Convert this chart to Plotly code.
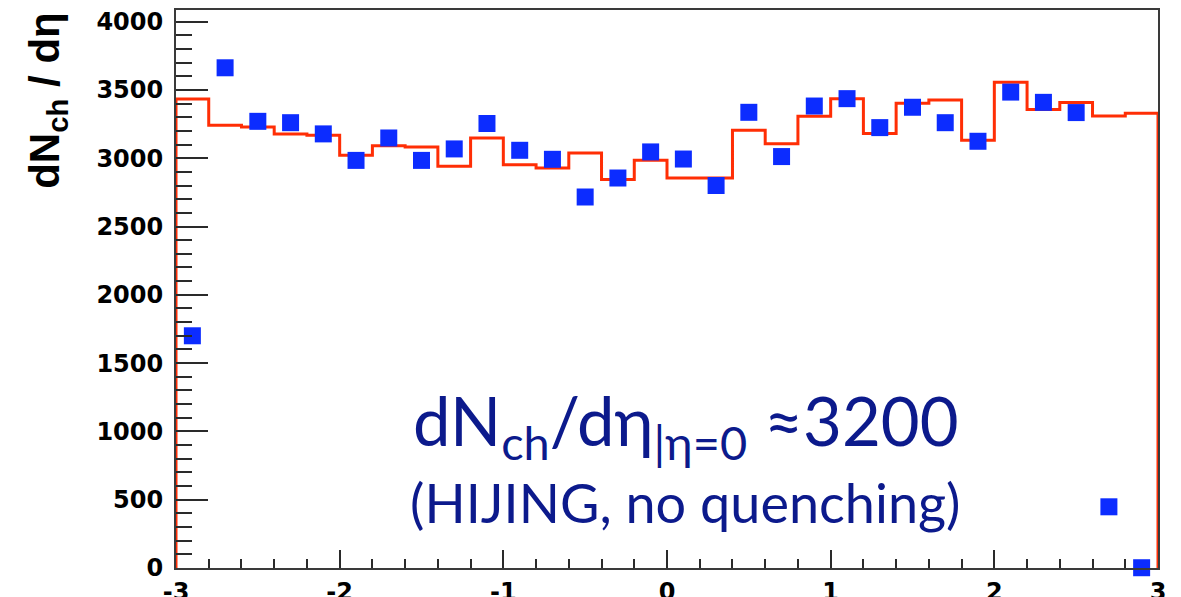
import plotly.graph_objects as go

# Pseudorapidity bins (width 0.2) from -3 to 3
bin_edges = [round(-3.0 + 0.2 * i, 1) for i in range(31)]
bin_centers = [round(-2.9 + 0.2 * i, 1) for i in range(30)]

# Simulated dN_ch/d(eta) histogram (red step line)
hist_values = [3434, 3241, 3229, 3177, 3168, 3021, 3092, 3082, 2941, 3148,
               2953, 2929, 3038, 2845, 2985, 2855, 2855, 3204, 3106, 3307,
               3436, 3180, 3402, 3426, 3131, 3556, 3356, 3407, 3309, 3329]

# Reconstructed multiplicity (blue squares)
point_values = [1700, 3662, 3270, 3260, 3178, 2984, 3148, 2984, 3068, 3254,
                3058, 2992, 2716, 2855, 3046, 2994, 2800, 3336, 3012, 3382,
                3436, 3224, 3373, 3260, 3124, 3484, 3409, 3334, 448, 2]

x_tick_vals = [-3, -2, -1, 0, 1, 2, 3]
x_tick_labels = ["-3", "-2", "-1", "0", "1", "2", "3"]
y_tick_vals = [0, 500, 1000, 1500, 2000, 2500, 3000, 3500, 4000]
y_tick_labels = ["0", "500", "1000", "1500", "2000", "2500", "3000", "3500", "4000"]

# Step outline: start and end on zero so the histogram is closed at both edges
step_x = [bin_edges[0]] + bin_edges[:-1] + [bin_edges[-1], bin_edges[-1]]
step_y = [0] + hist_values + [hist_values[-1], 0]

fig = go.Figure()
fig.add_trace(go.Scatter(
    x=step_x, y=step_y, mode="lines", line_shape="hv",
    line=dict(color="#ff2e05", width=3), cliponaxis=False,
    hoverinfo="skip", showlegend=False))
fig.add_trace(go.Scatter(
    x=bin_centers, y=point_values, mode="markers",
    marker=dict(symbol="square", size=17, color="#0c2cff", line=dict(width=0)),
    cliponaxis=False, showlegend=False))

axis_common = dict(
    showgrid=False, zeroline=False, showline=True, mirror=True,
    linecolor="#3a3a3a", linewidth=2, ticks="inside", tickcolor="#2a2a2a",
    tickwidth=1.5, automargin=False,
    tickfont=dict(family="DejaVu Sans", size=24, color="black", weight="bold"),
)

fig.update_xaxes(
    range=[-3, 3], tickvals=x_tick_vals, ticktext=x_tick_labels,
    ticklen=18, ticklabelstandoff=1,
    minor=dict(dtick=0.2, ticks="inside", ticklen=9, tickcolor="#2a2a2a",
               tickwidth=1.5),
    **axis_common)
fig.update_yaxes(
    range=[0, 4085], tickvals=y_tick_vals, ticktext=y_tick_labels,
    ticklen=32, ticklabelstandoff=6,
    minor=dict(dtick=100, ticks="inside", ticklen=16, tickcolor="#2a2a2a",
               tickwidth=1.5),
    **axis_common)

# Vertical axis title, pinned to the top of the axis
fig.add_annotation(
    xref="paper", yref="paper", x=-0.131, y=1.0, xanchor="center", yanchor="top",
    text="dN<sub>ch</sub> / dη", textangle=-90, showarrow=False,
    font=dict(family="Arial", size=42, color="black", weight="bold"))

# Multiplicity statement
fig.add_annotation(
    xref="paper", yref="paper", x=0.239, y=0.172, xanchor="left", yanchor="bottom",
    text="dN<sub>ch</sub>/dη<sub>|η=0</sub> ≈3200", showarrow=False,
    font=dict(family="Lato", size=67, color="#0c1a8c"))
fig.add_annotation(
    xref="paper", yref="paper", x=0.236, y=0.056, xanchor="left", yanchor="bottom",
    text="(HIJING, no quenching)", showarrow=False,
    font=dict(family="Lato", size=54, color="#0c1a8c"))

fig.update_layout(
    width=1181, height=597,
    margin=dict(l=176, r=23, t=10, b=29),
    paper_bgcolor="white", plot_bgcolor="white",
)

fig.write_html("out.html")
